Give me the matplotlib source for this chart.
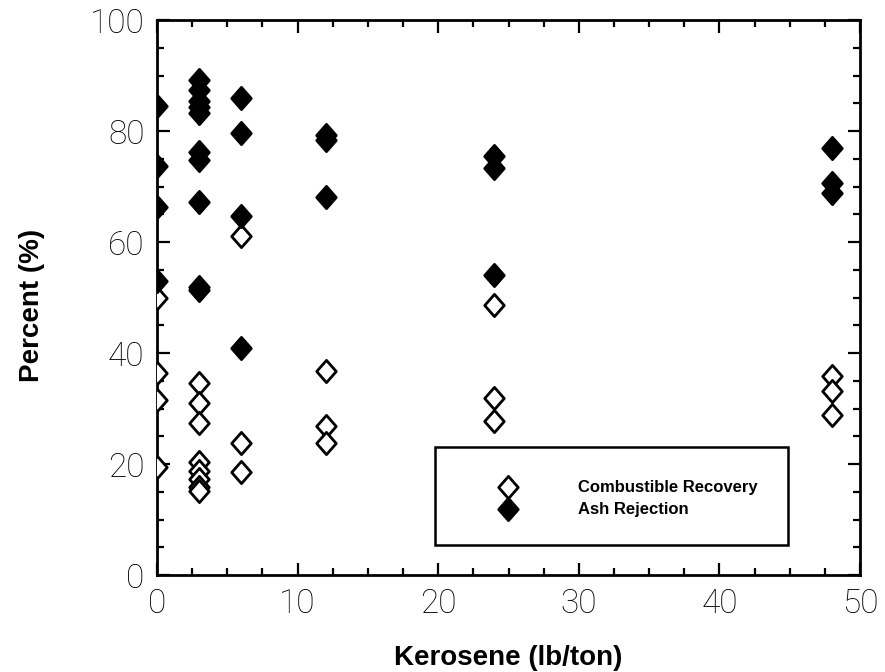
import matplotlib
matplotlib.use("Agg")
import matplotlib.pyplot as plt
from matplotlib.path import Path
from matplotlib.patches import Rectangle
from matplotlib.lines import Line2D
from matplotlib.ticker import MultipleLocator

# Kerosene dosage (lb/ton) and measured flotation performance (%)
comb_x = [0, 0, 0, 0,
          3, 3, 3, 3, 3, 3, 3, 3, 3,
          6, 6, 6,
          12, 12, 12,
          24, 24, 24,
          48, 48, 48]
comb_y = [50.0, 36.4, 31.6, 19.5,
          51.3, 34.6, 31.0, 27.4, 20.4, 18.8, 17.3, 15.9, 15.2,
          61.0, 23.8, 18.6,
          36.7, 26.8, 23.8,
          48.7, 31.9, 27.7,
          35.8, 33.1, 28.9]

ash_x = [0, 0, 0, 0,
         3, 3, 3, 3, 3, 3, 3, 3, 3,
         6, 6, 6, 6,
         12, 12, 12,
         24, 24, 24,
         48, 48, 48]
ash_y = [84.5, 73.7, 66.4, 52.9,
         89.2, 87.4, 85.4, 84.3, 83.2, 76.2, 74.7, 67.2, 51.9,
         86.0, 79.7, 64.6, 40.9,
         79.3, 78.3, 68.1,
         75.5, 73.4, 54.1,
         77.0, 70.7, 68.9]

series_labels = ["Combustible Recovery", "Ash Rejection"]
x_label = "Kerosene (lb/ton)"
y_label = "Percent (%)"

# slightly narrow diamond marker
diamond = Path([(0, 1), (0.88, 0), (0, -1), (-0.88, 0), (0, 1)],
               [Path.MOVETO, Path.LINETO, Path.LINETO, Path.LINETO, Path.CLOSEPOLY])

fig = plt.figure(figsize=(8.85, 6.72), dpi=100)
ax = fig.add_axes([0.1774, 0.1443, 0.7944, 0.8259])

ms = 16.0
mew = 2.0
ax.plot(comb_x, comb_y, linestyle="none", marker=diamond, markersize=ms,
        markerfacecolor="white", markeredgecolor="black", markeredgewidth=mew,
        zorder=3)
ax.plot(ash_x, ash_y, linestyle="none", marker=diamond, markersize=ms,
        markerfacecolor="black", markeredgecolor="black", markeredgewidth=mew,
        zorder=4)

ax.set_xlim(0, 50)
ax.set_ylim(0, 100)
ax.xaxis.set_major_locator(MultipleLocator(10))
ax.xaxis.set_minor_locator(MultipleLocator(2.5))
ax.yaxis.set_major_locator(MultipleLocator(20))
ax.yaxis.set_minor_locator(MultipleLocator(5))
ax.tick_params(which="both", direction="in", top=True, right=True, width=1.6)
ax.tick_params(which="major", length=9, pad=9)
ax.tick_params(which="minor", length=5)
for s in ax.spines.values():
    s.set_linewidth(2.0)

for lab in ax.get_xticklabels() + ax.get_yticklabels():
    lab.set_fontfamily(["Roboto", "DejaVu Sans"])
    lab.set_fontweight("light")
    lab.set_fontsize(24)
    lab.set_color("black")

label_font = dict(family=["Liberation Sans", "DejaVu Sans"], weight="bold", size=20)
ax.set_xlabel(x_label, labelpad=18, **label_font)
ax.set_ylabel(y_label, **label_font)
ax.yaxis.set_label_coords(-0.159, 0.485)

# legend box
ax.add_patch(Rectangle((0.395, 0.054), 0.503, 0.177, transform=ax.transAxes,
                       facecolor="white", edgecolor="black", linewidth=1.8,
                       zorder=5))
handles = [
    Line2D([], [], linestyle="none", marker=diamond, markersize=ms,
           markerfacecolor="white", markeredgecolor="black", markeredgewidth=mew),
    Line2D([], [], linestyle="none", marker=diamond, markersize=ms,
           markerfacecolor="black", markeredgecolor="black", markeredgewidth=mew),
]
leg = ax.legend(handles, series_labels, loc="center left",
                bbox_to_anchor=(0.487, 0.137), frameon=False,
                prop=dict(family=["Liberation Sans", "DejaVu Sans"], weight="bold", size=12),
                labelspacing=0.42, handlelength=1.0, handletextpad=3.7,
                borderpad=0, borderaxespad=0)
leg.set_zorder(6)

fig.savefig("out.png", dpi=100)
